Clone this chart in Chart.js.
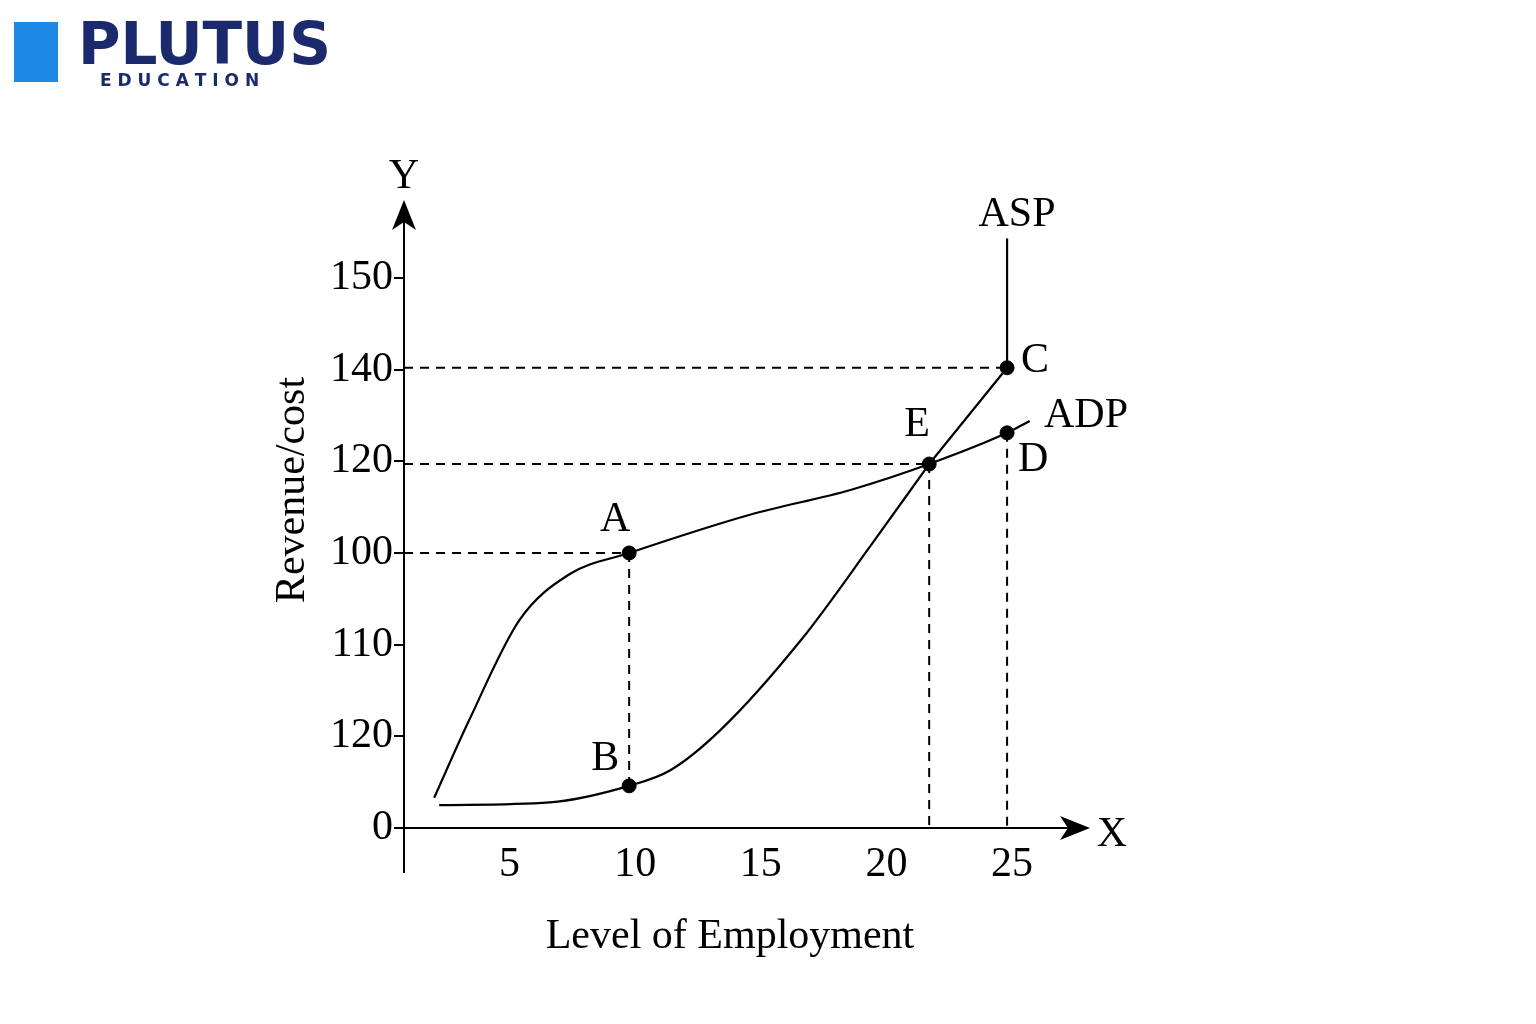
<!DOCTYPE html>
<html>
<head>
	<title>ADP and ASP</title>
	<script src="https://cdn.jsdelivr.net/npm/chart.js"></script>
	<style>body{margin:0;background:#fff}</style>
</head>
<body>
	<canvas id="myChart" width="1536" height="1024"></canvas>

	<script>
		// y is drawn on an even grid; the labels are as printed in the source
		const yTickValues = [0, 1, 2, 3, 4, 5, 6];
		const yTickLabels = ['0', '120', '110', '100', '120', '140', '150'];
		const xTickValues = [5, 10, 15, 20, 25];

		const adpX = [2.0, 3.4, 5.4, 7.4, 9.76, 14.6, 18.6, 21.7, 24.8, 25.7];
		const adpY = [0.33, 1.18, 2.27, 2.77, 3.0, 3.42, 3.69, 3.97, 4.31, 4.44];
		// curved part of ASP up to E, then straight to C and vertical
		const aspX = [2.2, 6.6, 9.76, 11.4, 13.4, 16.6, 19.4, 21.7];
		const aspY = [0.25, 0.28, 0.46, 0.63, 1.07, 2.05, 3.09, 3.97];
		const aspTopX = [21.7, 24.8, 24.8];
		const aspTopY = [3.97, 5.02, 6.43];

		const pointNames = ['A', 'B', 'E', 'C', 'D'];
		const pointX = [9.76, 9.76, 21.7, 24.8, 24.8];
		const pointY = [3.0, 0.46, 3.97, 5.02, 4.31];

		const xMin = 0.8, xMax = 28.1, yMax = 6.85;
		const serif = '"Liberation Serif", "DejaVu Serif", serif';

		const zip = (xs, ys) => xs.map((x, i) => ({x: x, y: ys[i]}));
		const dash = (pts) => ({data: pts, borderColor: '#000', borderWidth: 2, borderDash: [9, 7], pointRadius: 0, fill: false});

		const overlay = {
			id: 'overlay',
			afterDatasetsDraw(chart) {
				const c = chart.ctx, xs = chart.scales.x, ys = chart.scales.y;
				const x0 = xs.getPixelForValue(xMin), y0 = ys.getPixelForValue(0);
				const xe = xs.getPixelForValue(xMax), ye = ys.getPixelForValue(yMax);
				c.save();
				c.strokeStyle = '#000'; c.fillStyle = '#000'; c.lineWidth = 2;
				c.beginPath();
				c.moveTo(x0, y0 + 45); c.lineTo(x0, ye + 10);
				c.moveTo(x0, y0); c.lineTo(xe - 10, y0);
				c.stroke();
				// arrow heads
				c.beginPath();
				c.moveTo(x0, ye); c.lineTo(x0 - 12, ye + 30); c.lineTo(x0, ye + 22); c.lineTo(x0 + 12, ye + 30); c.closePath(); c.fill();
				c.beginPath();
				c.moveTo(xe, y0); c.lineTo(xe - 30, y0 - 12); c.lineTo(xe - 22, y0); c.lineTo(xe - 30, y0 + 12); c.closePath(); c.fill();

				c.font = '42px ' + serif;
				c.textAlign = 'center'; c.textBaseline = 'alphabetic';
				c.fillText('Y', x0, ye - 12);
				c.fillText('X', xe + 22, y0 + 18);
				c.fillText('Level of Employment', 730, 948);
				c.fillText('ASP', 1017, 226);
				c.fillText('ADP', 1086, 427);
				const off = {A: [-14, -22], B: [-24, -16], E: [-12, -28], C: [28, 4], D: [26, 38]};
				pointNames.forEach((n, i) => {
					const px = xs.getPixelForValue(pointX[i]), py = ys.getPixelForValue(pointY[i]);
					c.fillText(n, px + off[n][0], py + off[n][1]);
				});
				c.translate(292, 490); c.rotate(-Math.PI / 2);
				c.fillText('Revenue/cost', 0, 12);
				c.restore();
			}
		};

		const ctx = document.getElementById('myChart').getContext('2d');
		const chart = new Chart(ctx, {
			type: 'line',
			data: {
				datasets: [
					{data: zip(adpX, adpY), borderColor: '#000', borderWidth: 2.2, pointRadius: 0, cubicInterpolationMode: 'monotone', fill: false},
					{data: zip(aspX, aspY), borderColor: '#000', borderWidth: 2.2, pointRadius: 0, cubicInterpolationMode: 'monotone', fill: false},
					{data: zip(aspTopX, aspTopY), borderColor: '#000', borderWidth: 2.2, pointRadius: 0, tension: 0, fill: false},
					dash([{x: xMin, y: pointY[3]}, {x: pointX[3], y: pointY[3]}]),
					dash([{x: xMin, y: pointY[2]}, {x: pointX[2], y: pointY[2]}]),
					dash([{x: xMin, y: pointY[0]}, {x: pointX[0], y: pointY[0]}]),
					dash([{x: pointX[0], y: pointY[0]}, {x: pointX[1], y: pointY[1]}]),
					dash([{x: pointX[2], y: pointY[2]}, {x: pointX[2], y: 0}]),
					dash([{x: pointX[3], y: pointY[4]}, {x: pointX[3], y: 0}]),
					{data: zip(pointX, pointY), showLine: false, pointRadius: 7, pointBackgroundColor: '#000', pointBorderColor: '#000'}
				]
			},
			options: {
				responsive: false,
				animation: false,
				layout: {padding: {left: 0, top: 200, right: 446, bottom: 0}},
				plugins: {legend: {display: false}, tooltip: {enabled: false}},
				scales: {
					x: {
						type: 'linear', min: xMin, max: xMax,
						afterBuildTicks: s => { s.ticks = xTickValues.map(v => ({value: v})); },
						afterFit: s => { s.height = 196; },
						grid: {display: false}, border: {display: false},
						ticks: {color: '#000', font: {family: serif, size: 42}, padding: 4}
					},
					y: {
						type: 'linear', min: 0, max: yMax,
						afterBuildTicks: s => { s.ticks = yTickValues.map(v => ({value: v})); },
						afterFit: s => { s.width = 404; },
						grid: {drawOnChartArea: false, tickLength: 10, color: '#000', lineWidth: 2},
						border: {display: false},
						ticks: {color: '#000', font: {family: serif, size: 42}, padding: 1,
							callback: (v) => yTickLabels[yTickValues.indexOf(v)]}
					}
				}
			},
			plugins: [overlay]
		});

		// logo
		ctx.save();
		ctx.fillStyle = '#1a2a6c';
		ctx.font = '900 58px "DejaVu Sans", sans-serif';
		ctx.fillText('PLUTUS', 78, 64);
		ctx.font = 'bold 17px "DejaVu Sans", sans-serif';
		ctx.fillText('E D U C A T I O N', 100, 86);
		ctx.fillStyle = '#1e88e5';
		ctx.fillRect(14, 22, 44, 60);
		ctx.restore();
	</script>
</body>
</html>
